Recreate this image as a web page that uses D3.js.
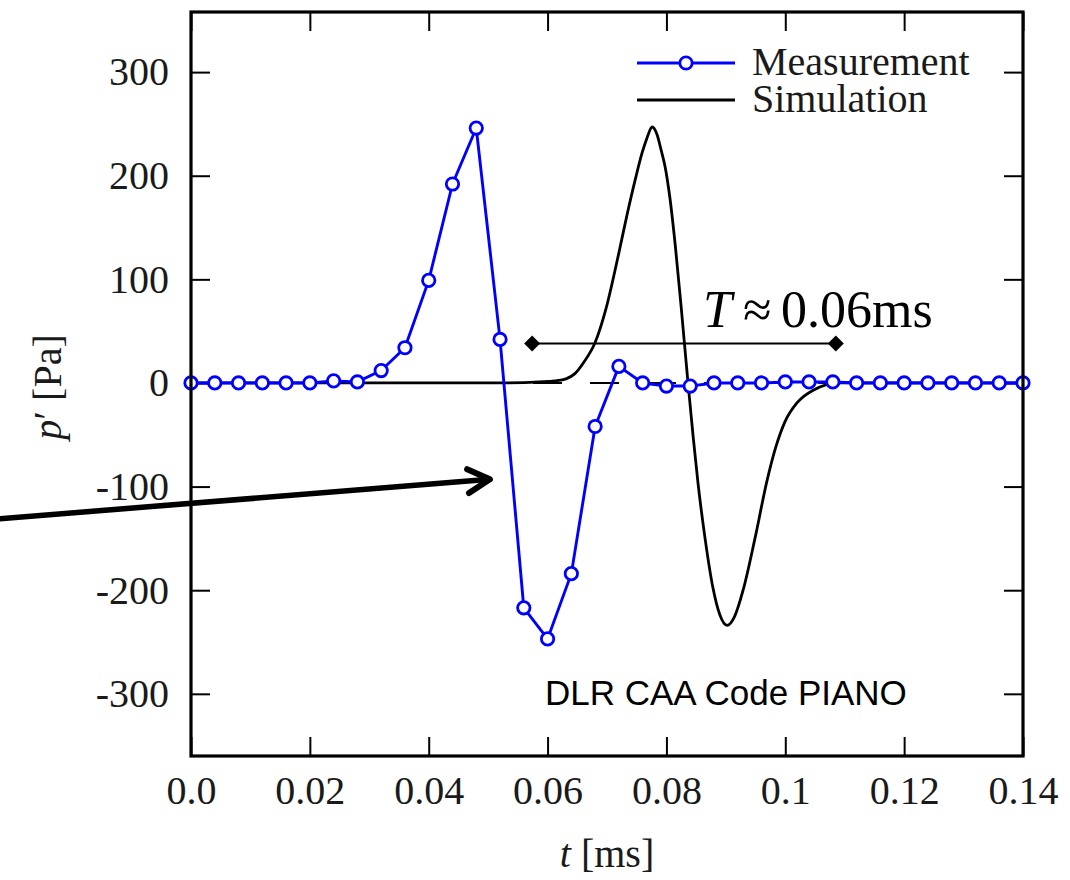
<!DOCTYPE html>
<html>
<head>
<meta charset="utf-8">
<script src="https://cdn.jsdelivr.net/npm/d3@7"></script>
<style>
  html, body { margin: 0; padding: 0; background: #fff; }
  svg { display: block; }
</style>
</head>
<body>
<svg id="chart" width="1070" height="880"></svg>
<script>
// Measured pressure samples, every 0.004 ms
const measTime = [0.000, 0.004, 0.008, 0.012, 0.016, 0.020, 0.024, 0.028, 0.032, 0.036,
                  0.040, 0.044, 0.048, 0.052, 0.056, 0.060, 0.064, 0.068, 0.072, 0.076,
                  0.080, 0.084, 0.088, 0.092, 0.096, 0.100, 0.104, 0.108, 0.112, 0.116,
                  0.120, 0.124, 0.128, 0.132, 0.136, 0.140];
const measP = [0, 0, 0, 0, 0, 0, 2, 1, 12, 34,
               99, 192, 246, 42, -217, -247, -184, -42, 16, 0,
               -3, -3, 0, 0, 0, 1, 1, 1, 0, 0,
               0, 0, 0, 0, 0, 0];

// Simulated pressure signal (PIANO)
const simTime = [0.0000, 0.0500, 0.0560, 0.0587, 0.0612, 0.0631, 0.0646, 0.0661, 0.0680, 0.0698,
                 0.0719, 0.0734, 0.0747, 0.0759, 0.0767, 0.0776, 0.0784, 0.0791, 0.0798, 0.0806,
                 0.0815, 0.0825, 0.0836, 0.0845, 0.0853, 0.0865, 0.0878, 0.0890, 0.0902, 0.0915,
                 0.0929, 0.0949, 0.0969, 0.0984, 0.0999, 0.1020, 0.1047, 0.1092, 0.1200, 0.1400];
const simP = [0, 0, 0.3, 1, 2, 4, 9, 20, 39, 71,
              123, 163, 195, 222, 236, 247, 240, 225, 208, 178,
              132, 72, 2, -52, -96, -150, -197, -224, -234, -225,
              -200, -150, -95, -62, -38, -19, -7, 0, 0, 0];

const xTicks = [0, 0.02, 0.04, 0.06, 0.08, 0.10, 0.12, 0.14];
const xTickLabels = ["0.0", "0.02", "0.04", "0.06", "0.08", "0.1", "0.12", "0.14"];
const yTicks = [-300, -200, -100, 0, 100, 200, 300];
const yTickLabels = ["-300", "-200", "-100", "0", "100", "200", "300"];

const seriesNames = ["Measurement", "Simulation"];
const periodLabel = { sym: "T", approx: "\u2248", rest: "0.06ms" };
const periodSpan = [0.0574, 0.1085];   // ms, drawn at p' = 38 Pa
const periodLevel = 38;
const pointer = { from: [-0.0322, -131], to: [0.0503, -93] };
const codeLabel = "DLR CAA Code PIANO";

const svg = d3.select("#chart");
const plotLeft = 191, plotRight = 1023, plotTop = 12, plotBottom = 756;

const x = d3.scaleLinear().domain([0, 0.14]).range([plotLeft, plotRight]);
const y = d3.scaleLinear().domain([-360, 358]).range([plotBottom, plotTop]);

const serif = "'Liberation Serif', 'DejaVu Serif', serif";
const tickLen = 19;
const blue = "#0000ff";

// Axes with inward ticks on all four sides
const gx = svg.append("g").attr("transform", `translate(0,${plotBottom})`)
  .call(d3.axisBottom(x).tickValues(xTicks).tickSize(-tickLen).tickPadding(20)
    .tickFormat((d, i) => xTickLabels[i]));
const gxt = svg.append("g").attr("transform", `translate(0,${plotTop})`)
  .call(d3.axisTop(x).tickValues(xTicks).tickSize(-tickLen).tickFormat(""));
const gy = svg.append("g").attr("transform", `translate(${plotLeft},0)`)
  .call(d3.axisLeft(y).tickValues(yTicks).tickSize(-tickLen).tickPadding(22)
    .tickFormat((d, i) => yTickLabels[i]));
const gyr = svg.append("g").attr("transform", `translate(${plotRight},0)`)
  .call(d3.axisRight(y).tickValues(yTicks).tickSize(-tickLen).tickFormat(""));

[gx, gxt, gy, gyr].forEach(g => {
  g.select(".domain").remove();
  g.selectAll(".tick line").attr("stroke", "#000").attr("stroke-width", 2);
  g.selectAll(".tick text").attr("font-family", serif).attr("font-size", 40).attr("fill", "#1a1a1a");
});

// Dashed zero reference
svg.append("line")
  .attr("x1", plotLeft).attr("x2", plotRight).attr("y1", y(0)).attr("y2", y(0))
  .attr("stroke", "#000").attr("stroke-width", 2).attr("stroke-dasharray", "29,28");

// Simulation curve
const simData = simTime.map((t, i) => [t, simP[i]]);
svg.append("path")
  .datum(simData)
  .attr("fill", "none").attr("stroke", "#000").attr("stroke-width", 2.8)
  .attr("stroke-linejoin", "round")
  .attr("d", d3.line().x(d => x(d[0])).y(d => y(d[1])).curve(d3.curveMonotoneX));

// Measurement line and markers
const measData = measTime.map((t, i) => [t, measP[i]]);
svg.append("path")
  .datum(measData)
  .attr("fill", "none").attr("stroke", blue).attr("stroke-width", 2.9)
  .attr("stroke-linejoin", "round")
  .attr("d", d3.line().x(d => x(d[0])).y(d => y(d[1])));
svg.append("g").selectAll("circle").data(measData).join("circle")
  .attr("cx", d => x(d[0])).attr("cy", d => y(d[1])).attr("r", 6.2)
  .attr("fill", "#fff").attr("stroke", blue).attr("stroke-width", 2.8);

// Plot frame
svg.append("rect")
  .attr("x", plotLeft).attr("y", plotTop)
  .attr("width", plotRight - plotLeft).attr("height", plotBottom - plotTop)
  .attr("fill", "none").attr("stroke", "#000").attr("stroke-width", 3.2);

// Period annotation
const py = y(periodLevel);
svg.append("line")
  .attr("x1", x(periodSpan[0])).attr("x2", x(periodSpan[1])).attr("y1", py).attr("y2", py)
  .attr("stroke", "#000").attr("stroke-width", 2);
periodSpan.forEach(t => {
  const cx = x(t), s = 8;
  svg.append("path")
    .attr("d", `M${cx - s},${py} L${cx},${py - s} L${cx + s},${py} L${cx},${py + s} Z`)
    .attr("fill", "#000");
});
const pt = svg.append("text")
  .attr("y", 327)
  .attr("font-family", serif).attr("font-size", 52).attr("fill", "#000");
pt.append("tspan").attr("x", 703).attr("font-style", "italic").text(periodLabel.sym);
pt.append("tspan").attr("x", 743).text(periodLabel.approx);
pt.append("tspan").attr("x", 781).text(periodLabel.rest);

// Pointer arrow
const a0 = [x(pointer.from[0]), y(pointer.from[1])];
const a1 = [x(pointer.to[0]), y(pointer.to[1])];
const ang = Math.atan2(a1[1] - a0[1], a1[0] - a0[0]);
const hl = 25, ha = 0.5;
svg.append("path")
  .attr("d", `M${a0[0]},${a0[1]} L${a1[0]},${a1[1]}`)
  .attr("stroke", "#000").attr("stroke-width", 5.5).attr("fill", "none");
svg.append("path")
  .attr("d", `M${a1[0] - hl * Math.cos(ang - ha)},${a1[1] - hl * Math.sin(ang - ha)}
              L${a1[0]},${a1[1]}
              L${a1[0] - hl * Math.cos(ang + ha)},${a1[1] - hl * Math.sin(ang + ha)}`)
  .attr("stroke", "#000").attr("stroke-width", 6).attr("fill", "none")
  .attr("stroke-linecap", "round").attr("stroke-linejoin", "round");

// Code label
svg.append("text")
  .attr("x", 545).attr("y", 705)
  .attr("font-family", "'Liberation Sans', Arial, sans-serif").attr("font-size", 35)
  .attr("fill", "#000").text(codeLabel);

// Legend
const legend = svg.append("g");
legend.append("line").attr("x1", 637).attr("x2", 735).attr("y1", 63).attr("y2", 63)
  .attr("stroke", blue).attr("stroke-width", 2.9);
legend.append("circle").attr("cx", 686).attr("cy", 63).attr("r", 6.2)
  .attr("fill", "#fff").attr("stroke", blue).attr("stroke-width", 2.8);
legend.append("line").attr("x1", 637).attr("x2", 735).attr("y1", 100).attr("y2", 100)
  .attr("stroke", "#000").attr("stroke-width", 2.8);
legend.append("text").attr("x", 752).attr("y", 75)
  .attr("font-family", serif).attr("font-size", 40).attr("fill", "#1a1a1a").text(seriesNames[0]);
legend.append("text").attr("x", 752).attr("y", 112)
  .attr("font-family", serif).attr("font-size", 40).attr("fill", "#1a1a1a").text(seriesNames[1]);

// Axis titles
svg.append("text")
  .attr("x", (plotLeft + plotRight) / 2).attr("y", 867).attr("text-anchor", "middle")
  .attr("font-family", serif).attr("font-size", 40).attr("fill", "#1a1a1a")
  .call(t => {
    t.append("tspan").attr("font-style", "italic").text("t");
    t.append("tspan").text(" [ms]");
  });
svg.append("text")
  .attr("transform", "translate(61,387) rotate(-90)").attr("text-anchor", "middle")
  .attr("font-family", serif).attr("font-size", 40).attr("fill", "#1a1a1a")
  .call(t => {
    t.append("tspan").attr("font-style", "italic").text("p");
    t.append("tspan").text("\u2032 [Pa]");
  });
</script>
</body>
</html>
